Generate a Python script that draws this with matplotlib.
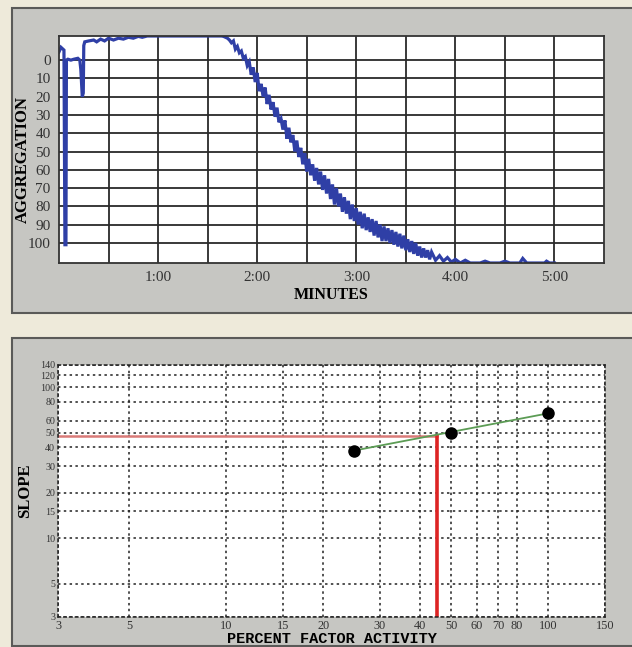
import matplotlib
matplotlib.use("Agg")
import matplotlib.pyplot as plt
from matplotlib.patches import Rectangle
from matplotlib.ticker import FixedLocator, NullLocator, FixedFormatter

# ---- top panel: aggregation trace (minutes, aggregation units) ----
agg_time = [0.00, 0.02, 0.05, 0.06, 0.07, 0.075, 0.09, 0.12, 0.15, 0.19, 0.21, 0.22, 0.235, 0.245,
            0.25, 0.26, 0.30, 0.35, 0.38, 0.42, 0.46, 0.50, 0.55, 0.60, 0.65, 0.70, 0.75, 0.80,
            0.84, 0.89, 1.64, 1.66, 1.68, 1.70, 1.72, 1.74, 1.76, 1.78, 1.80, 1.82, 1.84, 1.86,
            1.88, 1.90, 1.92, 1.94, 1.96, 1.98, 2.00, 2.02, 2.04, 2.06, 2.08, 2.10, 2.12, 2.14,
            2.16, 2.18, 2.20, 2.22, 2.24, 2.26, 2.28, 2.30, 2.32, 2.34, 2.36, 2.38, 2.40, 2.42,
            2.44, 2.46, 2.48, 2.50, 2.52, 2.54, 2.56, 2.58, 2.60, 2.62, 2.64, 2.66, 2.68, 2.70,
            2.72, 2.74, 2.76, 2.78, 2.80, 2.82, 2.84, 2.86, 2.88, 2.90, 2.92, 2.94, 2.96, 2.98,
            3.00, 3.02, 3.04, 3.06, 3.08, 3.10, 3.12, 3.14, 3.16, 3.18, 3.20, 3.22, 3.24, 3.26,
            3.28, 3.30, 3.32, 3.34, 3.36, 3.38, 3.40, 3.42, 3.44, 3.46, 3.48, 3.50, 3.52, 3.54,
            3.56, 3.58, 3.60, 3.62, 3.64, 3.66, 3.68, 3.70, 3.72, 3.74, 3.76, 3.80, 3.84, 3.88,
            3.92, 3.96, 4.00, 4.05, 4.10, 4.15, 4.25, 4.30, 4.35, 4.45, 4.50, 4.55, 4.65, 4.68,
            4.72, 4.90, 4.92, 4.95, 5.00]
agg_value = [-4.5, -7, -5.5, 101, 101, 0, -0.5, 0, -0.5, -1, 0, 5, 20, 18,
             -8, -10, -10.5, -11, -10, -11.5, -10.5, -12, -11, -12, -11.5, -12.5, -12, -13,
             -12.5, -13.2, -13.2, -13, -12.5, -12, -11, -9.5, -10.5, -6, -7.5, -4, -5, -1,
             -2, 3, 1, 8, 4, 12, 7, 17, 13, 20, 15, 24, 19, 27,
             23, 31, 26, 34, 32, 38, 33, 43, 37, 45, 41, 50, 44, 53,
             48, 57, 51, 61, 54, 63, 57, 66, 59, 68, 61, 71, 63, 73,
             65, 76, 68, 79, 70, 80, 73, 83, 75, 84, 77, 87, 79, 88,
             81, 90, 83, 92, 84, 93, 86, 94, 87, 96, 88, 97, 90, 99,
             91, 99, 92, 100, 93, 101, 94, 102, 95, 103, 96, 104, 98, 105,
             99, 106, 100, 107, 102, 108, 103, 108, 104, 109, 105, 109.5, 107, 110,
             108, 110.5, 109, 111, 109.5, 111, 111, 110, 111, 111, 110, 111, 111, 108.5,
             111, 111, 110, 111, 111]

minute_ticks = [1, 2, 3, 4, 5]
minute_labels = ["1:00", "2:00", "3:00", "4:00", "5:00"]
agg_ticks = [0, 10, 20, 30, 40, 50, 60, 70, 80, 90, 100]

# ---- bottom panel: standard curve ----
factor_activity = [25, 50, 100]
slope_values = [38, 50, 67]
patient_slope = 47.5
patient_activity = 45
pfa_ticks = [3, 5, 10, 15, 20, 30, 40, 50, 60, 70, 80, 100, 150]
slope_ticks = [3, 5, 10, 15, 20, 30, 40, 50, 60, 80, 100, 120, 140]

W, H = 632, 647
fig = plt.figure(figsize=(W / 100, H / 100), dpi=100)
fig.patch.set_facecolor("#eeeada")

def px_rect(x0, y0, x1, y1):
    return [x0 / W, 1 - y1 / H, (x1 - x0) / W, (y1 - y0) / H]

# grey panels behind each chart
for x0, y0, x1, y1 in [(12, 8, 640, 313), (12, 338, 640, 646)]:
    l, b, w, h = px_rect(x0, y0, x1, y1)
    fig.patches.append(Rectangle((l, b), w, h, transform=fig.transFigure, zorder=-5,
                                 facecolor="#c6c6c2", edgecolor="#5a5a58", linewidth=1.5))

serif = "Liberation Serif"

# top chart
ax1 = fig.add_axes(px_rect(59, 36, 604, 263))
ax1.plot(agg_time, agg_value, color="#2f3fa6", linewidth=2.3, solid_joinstyle="miter")
ax1.set_xlim(0, 5.5)
ax1.set_ylim(111, -13.2)
ax1.xaxis.set_major_locator(FixedLocator(minute_ticks))
ax1.xaxis.set_major_formatter(FixedFormatter(minute_labels))
ax1.xaxis.set_minor_locator(FixedLocator([0.5, 1.5, 2.5, 3.5, 4.5]))
ax1.set_yticks(agg_ticks)
ax1.grid(which="both", color="#2a2a2a", linewidth=1.3)
ax1.set_axisbelow(True)
ax1.tick_params(which="both", length=0, pad=6, labelsize=11, labelcolor="#333333")
for lab in ax1.get_xticklabels() + ax1.get_yticklabels():
    lab.set_family(serif)
for sp in ax1.spines.values():
    sp.set_color("#333333")
    sp.set_linewidth(1.3)
ax1.set_xlabel("MINUTES", family=serif, fontweight="bold", fontsize=11.5, labelpad=2)
ax1.set_ylabel("AGGREGATION", family=serif, fontweight="bold", fontsize=12)
ax1.yaxis.set_label_coords(-0.051, 0.455)

# bottom chart
ax2 = fig.add_axes(px_rect(58, 365, 605, 617))
ax2.set_xscale("log")
ax2.set_yscale("log")
ax2.set_xlim(3, 150)
ax2.set_ylim(3, 140)
ax2.xaxis.set_major_locator(FixedLocator(pfa_ticks))
ax2.xaxis.set_major_formatter(FixedFormatter([str(v) for v in pfa_ticks]))
ax2.xaxis.set_minor_locator(NullLocator())
ax2.yaxis.set_major_locator(FixedLocator(slope_ticks))
ax2.yaxis.set_major_formatter(FixedFormatter([str(v) for v in slope_ticks]))
ax2.yaxis.set_minor_locator(NullLocator())
ax2.grid(which="major", color="#222222", linewidth=1.1, linestyle=(0, (1.6, 2.2)))
ax2.tick_params(axis="x", length=0, labelsize=8.8, labelcolor="#333333", pad=2)
ax2.tick_params(axis="y", length=0, labelsize=7.2, labelcolor="#333333", pad=2)
for lab in ax2.get_xticklabels() + ax2.get_yticklabels():
    lab.set_family(serif)
for sp in ax2.spines.values():
    sp.set_color("#222222")
    sp.set_linewidth(1.1)
    sp.set_linestyle((0, (1.6, 2.2)))

ax2.plot([3, patient_activity], [patient_slope, patient_slope], color="#d97a78", linewidth=1.8)
ax2.plot([patient_activity, patient_activity], [3, patient_slope], color="#dd2424", linewidth=2.6)
ax2.plot([factor_activity[0], factor_activity[-1]], [slope_values[0], slope_values[-1]],
         color="#5c9c55", linewidth=1.3)
ax2.plot(factor_activity, slope_values, "o", color="black", markersize=8)

ax2.set_xlabel("PERCENT FACTOR ACTIVITY", family="Liberation Mono", fontweight="bold",
               fontsize=11, labelpad=0)
ax2.set_ylabel("SLOPE", family=serif, fontweight="bold", fontsize=12)
ax2.yaxis.set_label_coords(-0.046, 0.5)

fig.savefig("out.png", dpi=100, facecolor=fig.get_facecolor())
